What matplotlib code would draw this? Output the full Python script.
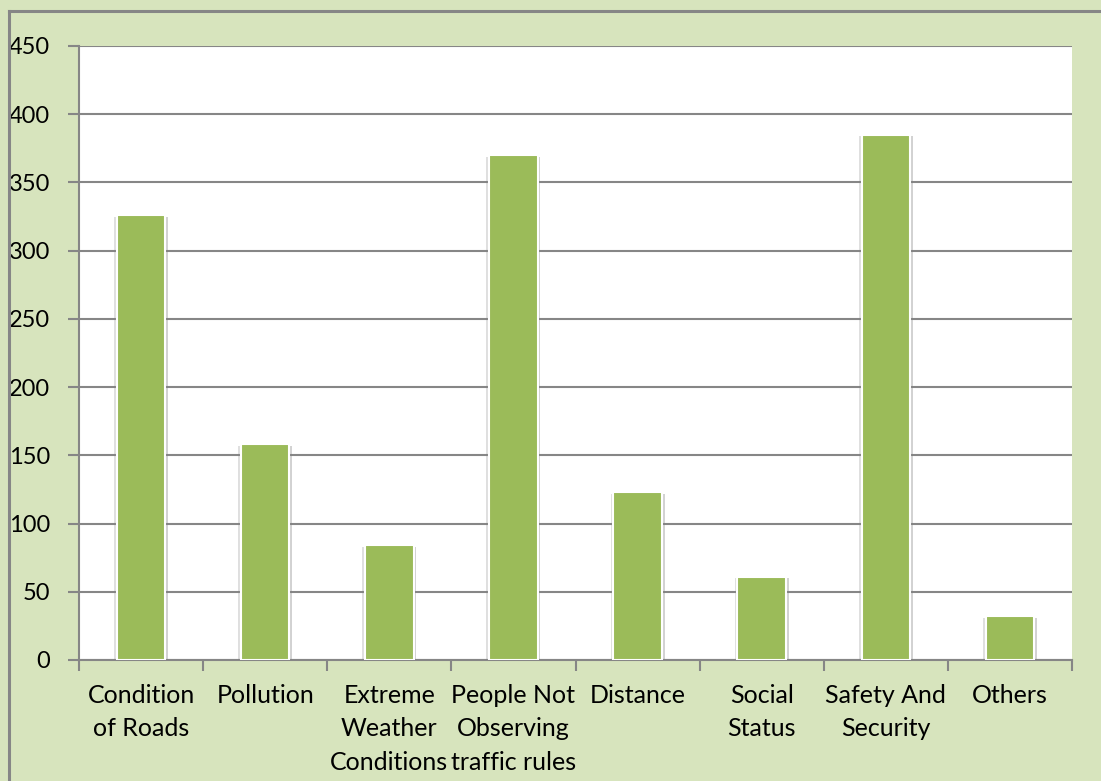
import matplotlib.pyplot as plt
import matplotlib.patheffects as pe
from matplotlib.lines import Line2D
import numpy as np

plt.rcParams['font.family'] = ['Lato', 'DejaVu Sans']

categories = ["Condition\nof Roads", "Pollution", "Extreme\nWeather\nConditions",
              "People Not\nObserving\ntraffic rules", "Distance", "Social\nStatus",
              "Safety And\nSecurity", "Others"]
values = [326, 158, 84, 370, 123, 61, 385, 32]
yticks = [0, 50, 100, 150, 200, 250, 300, 350, 400, 450]

bg = '#d7e4bd'
grid_col = '#868686'
bar_col = '#9bbb59'

fig = plt.figure(figsize=(11.01, 7.81), dpi=100, facecolor=bg)
# outer frame of the chart area: only top and left edges are visible
fx, fy = 8.5 / 1101, 1 - 10.5 / 781
fig.add_artist(Line2D([fx, 1.0], [fy, fy], transform=fig.transFigure,
                      color=grid_col, linewidth=2.2))
fig.add_artist(Line2D([fx, fx], [0.0, fy], transform=fig.transFigure,
                      color=grid_col, linewidth=2.2))

ax = fig.add_axes([79 / 1101, 121 / 781, 993 / 1101, 614 / 781])
ax.set_facecolor('white')

x = np.arange(len(values))
shadow = [pe.SimplePatchShadow(offset=(2, -1), shadow_rgbFace='#808080', alpha=0.35),
          pe.SimplePatchShadow(offset=(-2, -1), shadow_rgbFace='#808080', alpha=0.25),
          pe.Normal()]
bars = ax.bar(x, values, width=0.39, color=bar_col, edgecolor='white',
              linewidth=1.5, zorder=3)
for b in bars:
    b.set_path_effects(shadow)

ax.set_xlim(-0.5, len(values) - 0.5)
ax.set_ylim(0, 450)
ax.set_yticks(yticks)
ax.set_yticklabels([str(t) for t in yticks])
ax.yaxis.grid(True, color=grid_col, linewidth=1.5, zorder=0)
ax.set_axisbelow(True)

ax.set_xticks(x)
ax.set_xticklabels(categories, linespacing=1.55)
ax.set_xticks(np.arange(len(values) + 1) - 0.5, minor=True)
ax.tick_params(axis='x', which='major', length=0, pad=17, labelsize=18)
ax.tick_params(axis='x', which='minor', length=8, width=1.5, color=grid_col)
ax.tick_params(axis='y', length=8, width=1.5, color=grid_col, pad=13, labelsize=17)

for s in ['top', 'right']:
    ax.spines[s].set_visible(False)
for s in ['left', 'bottom']:
    ax.spines[s].set_color(grid_col)
    ax.spines[s].set_linewidth(1.5)

fig.savefig('out.png', dpi=100, facecolor=bg)
